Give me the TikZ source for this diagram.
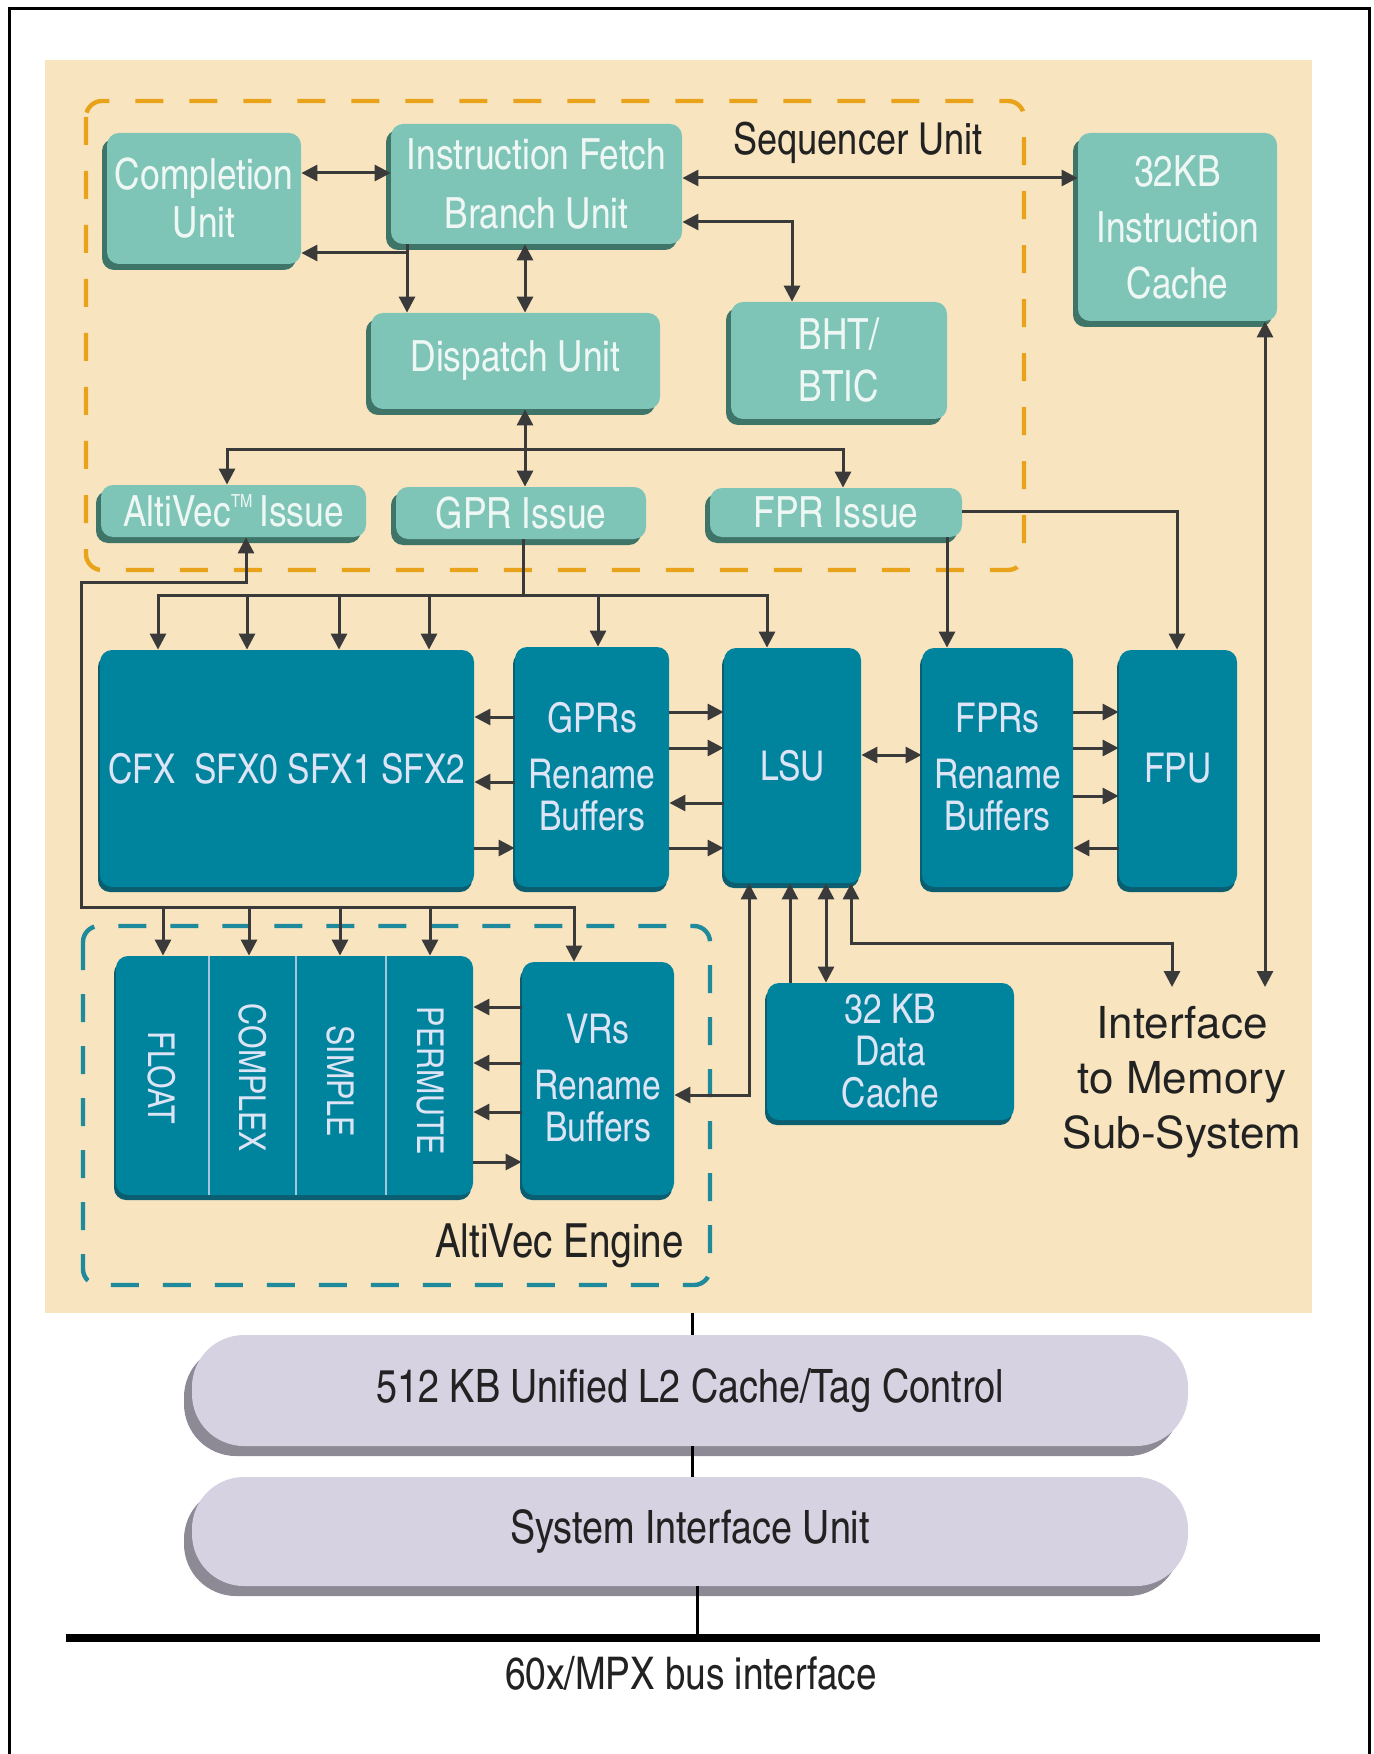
\documentclass[tikz,border=0pt]{standalone}
\usepackage{fontspec}
\setmainfont{texgyreheroscn}[Extension=.otf, UprightFont=*-regular, BoldFont=*-bold]
\newfontfamily\regsans{texgyreheros}[Extension=.otf, UprightFont=*-regular]
\usetikzlibrary{arrows.meta,shadows}
\definecolor{beige}{HTML}{F8E5C0}
\definecolor{seqorange}{HTML}{E9A31A}
\definecolor{avteal}{HTML}{1F8A9C}
\definecolor{ltface}{HTML}{7EC5B7}
\definecolor{ltshadow}{HTML}{3E7568}
\definecolor{ltext}{HTML}{EEF7F4}
\definecolor{dkface}{HTML}{00839D}
\definecolor{dkshadow}{HTML}{0B5E70}
\definecolor{dtext}{HTML}{DCE4F5}
\definecolor{pillface}{HTML}{D7D2E2}
\definecolor{pillshadow}{HTML}{8D8995}
\definecolor{wirec}{HTML}{3A3A3A}
\definecolor{ink}{HTML}{222222}
\definecolor{sepc}{HTML}{A3C6D8}
\tikzset{
  lt/.style={fill=ltface, rounded corners=6pt, text=ltext, align=center, inner sep=0pt,
     general shadow={shadow xshift=-2.5pt, shadow yshift=-3pt, fill=ltshadow},
     font=\fontsize{21.5}{26}\selectfont},
  dk/.style={fill=dkface, rounded corners=6pt, text=dtext, align=center, inner sep=0pt,
     general shadow={shadow xshift=-1pt, shadow yshift=-2.5pt, fill=dkshadow},
     font=\fontsize{20.5}{21}\selectfont},
  dktxt/.style={text=dtext, inner sep=0pt, font=\fontsize{18.5}{18.5}\selectfont},
  pill/.style={fill=pillface, rounded corners=26pt, text=ink, inner sep=0pt,
     general shadow={shadow xshift=-4pt, shadow yshift=-5pt, fill=pillshadow},
     font=\fontsize{23}{26}\selectfont},
  sz/.style 2 args={minimum width=#1*0.5pt, minimum height=#2*0.5pt},
  wire/.style={draw=wirec, line width=1.5pt},
  arr/.style={wire, -{Triangle[length=8pt,width=8pt]}},
  dbl/.style={wire, {Triangle[length=8pt,width=8pt]}-{Triangle[length=8pt,width=8pt]}},
  lbl/.style={text=ink, inner sep=0pt},
  sepline/.style={draw=sepc, line width=1pt},
}
\begin{document}
\begin{tikzpicture}[x=0.5pt,y=-0.5pt]
\useasboundingbox (0,0) rectangle (1374,1754);
% frame and background
\draw[black, line width=1.5pt] (9,1754) -- (9,9) -- (1369,9) -- (1369,1754);
\fill[beige] (45,60) rectangle (1312,1313);
\draw[seqorange, line width=2.2pt, dash pattern=on 14pt off 13pt, rounded corners=8pt] (86,101) rectangle (1024,570);
\draw[avteal, line width=2.2pt, dash pattern=on 14pt off 12pt, rounded corners=8pt] (83,926) rectangle (710,1285);

% sequencer nodes
\node[lt, sz={194}{131}, font=\fontsize{21.5}{24}\selectfont] (comp) at (204,198.5) {Completion\\Unit};
\node[lt, sz={291}{120}, font=\fontsize{21.5}{29.5}\selectfont] (ifu) at (536.5,184) {Instruction Fetch\\Branch Unit};
\node[lt, sz={289}{96}] (disp) at (515.5,361) {Dispatch Unit};
\node[lt, sz={216}{117}] (bht) at (839,360.5) {BHT/\\BTIC};
\node[lt, sz={199}{188}, font=\fontsize{21.5}{28}\selectfont] (icache) at (1177.5,227) {32KB\\Instruction\\Cache};
\node[lt, sz={265}{52}] (avi) at (233.5,511) {AltiVec\raisebox{0.85ex}{\fontsize{9}{9}\selectfont TM}\,Issue};
\node[lt, sz={250}{52}] (gpri) at (521,513) {GPR Issue};
\node[lt, sz={252}{49}] (fpri) at (836,512.5) {FPR Issue};
\node[lbl, font=\fontsize{22}{22}\selectfont] (seqlbl) at (858,143) {Sequencer Unit};

% execution nodes
\node[dk, sz={374}{237}] (cfx) at (287,768.5) {CFX\ \ SFX0 SFX1 SFX2};
\node[dk, sz={154}{240}] (gprs) at (592,767) {GPRs\\[7pt]Rename\\Buffers};
\node[dk, sz={137}{235}] (lsu) at (792.5,765.5) {LSU};
\node[dk, sz={151}{239}] (fprs) at (997.5,767.5) {FPRs\\[7pt]Rename\\Buffers};
\node[dk, sz={118}{237}] (fpu) at (1178,768.5) {FPU};

% altivec engine
\node[dk, sz={357}{239}] (vex) at (294.5,1075.5) {};
\draw[sepline] (vex.north -| 209,0) -- (vex.south -| 209,0);
\draw[sepline] (vex.north -| 296,0) -- (vex.south -| 296,0);
\draw[sepline] (vex.north -| 386,0) -- (vex.south -| 386,0);
\node[dktxt, rotate=-90] (tfloat) at (162,1078) {FLOAT};
\node[dktxt, rotate=-90] (tcomplex) at (253,1078) {COMPLEX};
\node[dktxt, rotate=-90] (tsimple) at (341,1081) {SIMPLE};
\node[dktxt, rotate=-90] (tpermute) at (430,1081) {PERMUTE};
\node[dk, sz={152}{233}] (vrs) at (598,1078.5) {VRs\\[7pt]Rename\\Buffers};
\node[lbl, font=\fontsize{23.5}{24}\selectfont, anchor=east] (avlbl) at (684,1246) {AltiVec Engine};

\node[dk, sz={247}{137}] (dc) at (890.5,1051.5) {32 KB\\Data\\Cache};
\node[lbl, font=\regsans\fontsize{22}{27.5}\selectfont, align=center] (mem) at (1182,1082) {Interface\\to Memory\\Sub-System};

% bottom
\node[pill, sz={996}{111}] (l2) at (690,1390.5) {512 KB Unified L2 Cache/Tag Control};
\node[pill, sz={996}{109}] (siu) at (690,1531.5) {System Interface Unit};
\node[lbl, font=\fontsize{22.5}{22.5}\selectfont] (buslbl) at (691,1673) {60x/MPX bus interface};

% ---------------- connectors ----------------
\draw[dbl] (comp.east |- 0,173) -- (ifu.west |- 0,173);
\coordinate (ifj) at (407,253);
\draw[arr] (ifj) -- (ifj -| comp.east);
\draw[arr] (ifu.south -| ifj) -- (ifj |- disp.north);
\draw[dbl] (ifu.south -| 525,0) -- (disp.north -| 525,0);
\draw[dbl] (ifu.east |- 0,178) -- (icache.west |- 0,178);
\draw[dbl] (ifu.east |- 0,222) -| (bht.north -| 792,0);
\draw[dbl] (disp.south -| 525,0) -- (gpri.north -| 525,0);
\coordinate (dj) at (525,450);
\draw[arr] (dj) -| (avi.north -| 227,0);
\draw[arr] (dj) -| (fpri.north -| 843,0);

% GPR issue bus
\coordinate (gj) at (523,595);
\draw[wire] (gpri.south -| gj) -- (gj);
\draw[dbl] (cfx.north -| 158,0) -- (158,595) -- (767,595) -- (lsu.north -| 767,0);
\foreach \xx in {247,339,429} \draw[arr] (\xx,595) -- (cfx.north -| \xx,0);
\draw[arr] (598,595) -- (gprs.north -| 598,0);

% FPR issue
\draw[arr] (fpri.east |- 0,511) -| (fpu.north -| 1177,0);
\draw[arr] (fpri.south -| 947,0) -- (fprs.north -| 947,0);

% AltiVec issue bus
\coordinate (aj) at (246,582);
\coordinate (ac1) at (81,582);
\coordinate (ac2) at (81,907);
\coordinate (ac3) at (574,907);
\draw[dbl] (avi.south -| aj) -- (aj) -- (ac1) -- (ac2) -- (ac3) -- (vrs.north -| ac3);
\foreach \xx in {163,249,340,430} \draw[arr] (\xx,907) -- (vex.north -| \xx,0);

% CFX / GPRs
\draw[arr] (gprs.west |- 0,717) -- (cfx.east |- 0,717);
\draw[arr] (gprs.west |- 0,782) -- (cfx.east |- 0,782);
\draw[arr] (cfx.east |- 0,848) -- (gprs.west |- 0,848);
% GPRs / LSU
\draw[arr] (gprs.east |- 0,712) -- (lsu.west |- 0,712);
\draw[arr] (gprs.east |- 0,748) -- (lsu.west |- 0,748);
\draw[arr] (lsu.west |- 0,803) -- (gprs.east |- 0,803);
\draw[arr] (gprs.east |- 0,848) -- (lsu.west |- 0,848);
% LSU / FPRs
\draw[dbl] (lsu.east |- 0,755) -- (fprs.west |- 0,755);
% FPRs / FPU
\draw[arr] (fprs.east |- 0,712) -- (fpu.west |- 0,712);
\draw[arr] (fprs.east |- 0,748) -- (fpu.west |- 0,748);
\draw[arr] (fprs.east |- 0,796) -- (fpu.west |- 0,796);
\draw[arr] (fpu.west |- 0,848) -- (fprs.east |- 0,848);
% VRs / vector units
\draw[arr] (vrs.west |- 0,1007) -- (vex.east |- 0,1007);
\draw[arr] (vrs.west |- 0,1063) -- (vex.east |- 0,1063);
\draw[arr] (vrs.west |- 0,1112) -- (vex.east |- 0,1112);
\draw[arr] (vex.east |- 0,1162) -- (vrs.west |- 0,1162);
% LSU / VRs, data cache, memory
\draw[dbl] (lsu.south -| 749,0) -- (749,1095) -- (vrs.east |- 0,1095);
\draw[arr] (dc.north -| 790,0) -- (lsu.south -| 790,0);
\draw[dbl] (dc.north -| 826,0) -- (lsu.south -| 826,0);
\coordinate (memin1) at (1172,987);
\coordinate (memin2) at (1265,987);
\draw[dbl] (lsu.south -| 851,0) -- (851,943) -| (memin1);
\draw[dbl] (icache.south -| 1265,0) -- (memin2);

% bottom connections
\coordinate (coreb) at (692,1313);
\draw[black, line width=1.5pt] (coreb) -- (l2.north -| coreb);
\draw[black, line width=1.5pt] (l2.south -| 692,0) -- (siu.north -| 692,0);
\coordinate (busj) at (697,1638);
\draw[black, line width=1.5pt] (siu.south -| busj) -- (busj);
\coordinate (busl) at (66,1638);
\coordinate (busr) at (1320,1638);
\draw[black, line width=4pt] (busl) -- (busr);
\end{tikzpicture}
\end{document}
